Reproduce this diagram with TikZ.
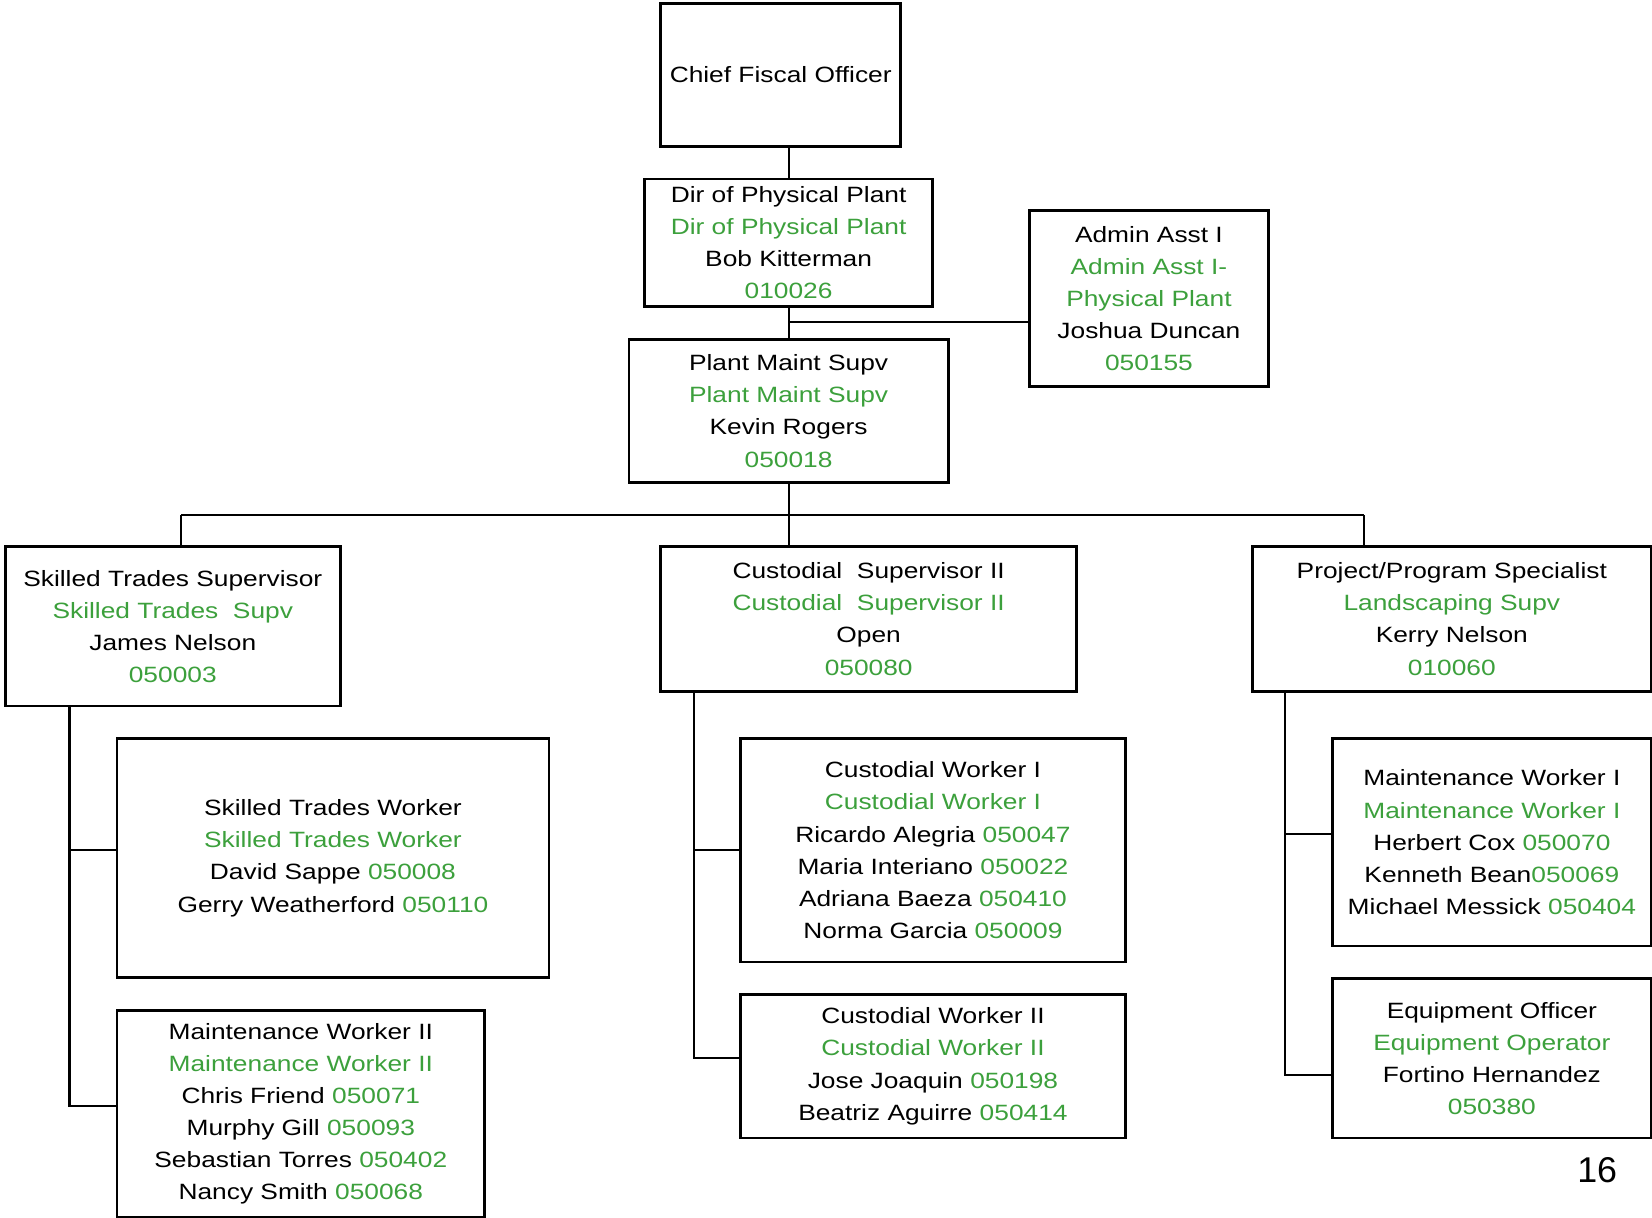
\documentclass[tikz,border=0pt]{standalone}
\usepackage{fontspec}
\setmainfont{Liberation Sans}[FakeStretch=1.19]
\newfontfamily\plainfont{Liberation Sans}
\definecolor{codegreen}{RGB}{60,160,60}
\newcommand{\gr}[1]{\textcolor{codegreen}{#1}}
\tikzset{
  box/.style={draw, line width=1.3pt, inner sep=0pt, align=center, rectangle,
    font=\fontsize{10.5}{15.25}\selectfont},
  conn/.style={line width=1pt}
}
\begin{document}
\begin{tikzpicture}[x=0.5pt,y=-0.5pt]
\useasboundingbox (0,0) rectangle (1568,1156);
\node[box, minimum width=114pt, minimum height=68pt] (chief) at (741,71) {Chief Fiscal Officer};
\node[box, minimum width=136.5pt, minimum height=60.5pt] (dir) at (748.5,230.5)
  {Dir of Physical Plant\\ \gr{Dir of Physical Plant}\\ Bob Kitterman\\ \gr{010026}};
\node[box, minimum width=113.5pt, minimum height=83.5pt] (admin) at (1090.5,283.5)
  {Admin Asst I\\ \gr{Admin Asst I-}\\ \gr{Physical Plant}\\ Joshua Duncan\\ \gr{050155}};
\node[box, minimum width=151.5pt, minimum height=68pt] (plant) at (748.5,390)
  {Plant Maint Supv\\ \gr{Plant Maint Supv}\\ Kevin Rogers\\ \gr{050018}};
\node[box, minimum width=159pt, minimum height=75.5pt] (sksup) at (164,594.5)
  {Skilled Trades Supervisor\\ \gr{Skilled Trades\ \ Supv}\\ James Nelson\\ \gr{050003}};
\node[box, minimum width=197.5pt, minimum height=68.5pt] (cusup) at (824.5,587.5)
  {Custodial\ \ Supervisor II\\ \gr{Custodial\ \ Supervisor II}\\ Open\\ \gr{050080}};
\node[box, minimum width=189pt, minimum height=68.5pt] (proj) at (1378,587.5)
  {Project/Program Specialist\\ \gr{Landscaping Supv}\\ Kerry Nelson\\ \gr{010060}};
\node[box, minimum width=205pt, minimum height=113.5pt] (stw) at (316,814.5)
  {Skilled Trades Worker\\ \gr{Skilled Trades Worker}\\ David Sappe \gr{050008}\\ Gerry Weatherford \gr{050110}};
\node[box, minimum width=174.5pt, minimum height=98pt] (mw2) at (285.5,1057)
  {Maintenance Worker II\\ \gr{Maintenance Worker II}\\ Chris Friend \gr{050071}\\ Murphy Gill \gr{050093}\\ Sebastian Torres \gr{050402}\\ Nancy Smith \gr{050068}};
\node[box, minimum width=182.5pt, minimum height=106pt] (cw1) at (885.5,807)
  {Custodial Worker I\\ \gr{Custodial Worker I}\\ Ricardo Alegria \gr{050047}\\ Maria Interiano \gr{050022}\\ Adriana Baeza \gr{050410}\\ Norma Garcia \gr{050009}};
\node[box, minimum width=182.5pt, minimum height=68pt] (cw2) at (885.5,1012)
  {Custodial Worker II\\ \gr{Custodial Worker II}\\ Jose Joaquin \gr{050198}\\ Beatriz Aguirre \gr{050414}};
\node[box, minimum width=151pt, minimum height=98.5pt] (mw1) at (1416,799.5)
  {Maintenance Worker I\\ \gr{Maintenance Worker I}\\ Herbert Cox \gr{050070}\\ Kenneth Bean\gr{050069}\\ Michael Messick \gr{050404}};
\node[box, minimum width=151pt, minimum height=75.5pt] (eo) at (1416,1004.5)
  {Equipment Officer\\ \gr{Equipment Operator}\\ Fortino Hernandez\\ \gr{050380}};
\node[font=\plainfont\fontsize{17}{20}\selectfont, inner sep=0pt] (page) at (1516,1111) {16};
% connectors
\draw[conn] (dir.north) -- (dir.north |- chief.south);
\draw[conn] (dir.south) -- (plant.north);
\coordinate (ja) at (748.5,306);
\draw[conn] (ja) -- (ja -| admin.west);
\coordinate (bl) at (172,489);
\coordinate (br) at (1295,489);
\draw[conn] (bl) -- (br);
\draw[conn] (plant.south) -- (plant.south |- cusup.north);
\draw[conn] (bl) -- (bl |- sksup.north);
\draw[conn] (br) -- (br |- proj.north);
% left trunk
\coordinate (l1) at (66,807);
\coordinate (l2) at (66,1050);
\draw[conn] (l2 |- sksup.south) -- (l2) -- (l2 -| mw2.west);
\draw[conn] (l1) -- (l1 -| stw.west);
% middle trunk
\coordinate (m1) at (659,807);
\coordinate (m2) at (659,1004);
\draw[conn] (m2 |- cusup.south) -- (m2) -- (m2 -| cw2.west);
\draw[conn] (m1) -- (m1 -| cw1.west);
% right trunk
\coordinate (r1) at (1220,792);
\coordinate (r2) at (1220,1020);
\draw[conn] (r2 |- proj.south) -- (r2) -- (r2 -| eo.west);
\draw[conn] (r1) -- (r1 -| mw1.west);
\end{tikzpicture}
\end{document}
